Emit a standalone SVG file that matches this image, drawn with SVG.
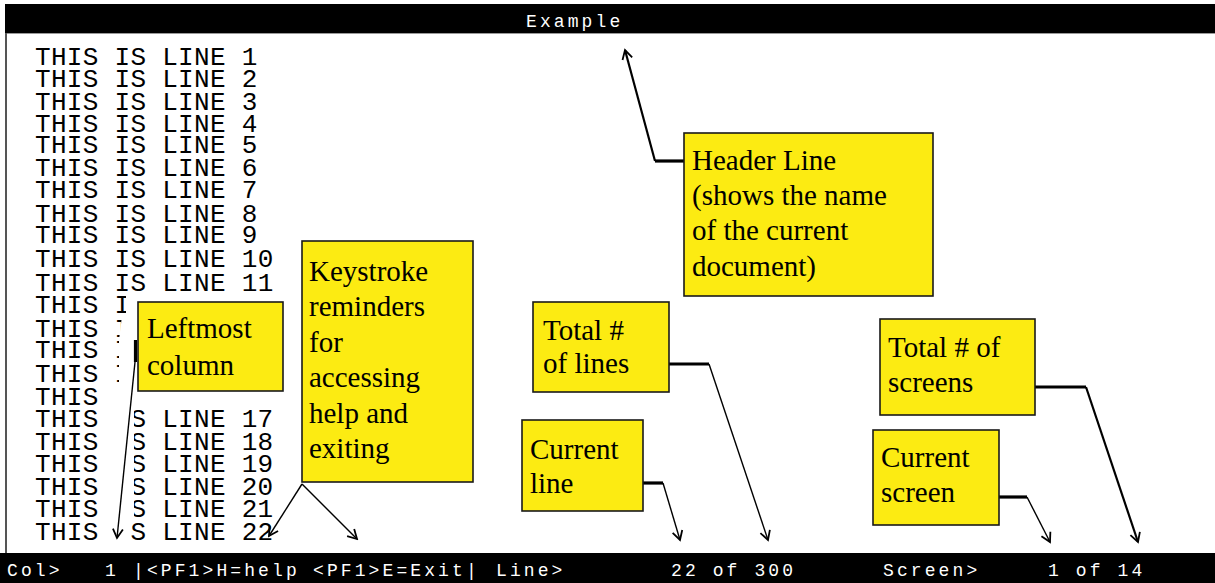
<svg xmlns="http://www.w3.org/2000/svg" width="1215" height="583" viewBox="0 0 1215 583">
  <style>
    .bar { fill: #000; }
    .term { font-family: "Liberation Mono", "DejaVu Sans Mono", monospace; fill: #fff; font-size: 18px; letter-spacing: 3.1px; }
    .body { font-family: "Liberation Mono", "DejaVu Sans Mono", monospace; fill: #000; font-size: 26px; letter-spacing: 0.3px; }
    .note rect { fill: #FCEB12; stroke: #1a1a1a; stroke-width: 1.6; }
    .note text { font-family: "Liberation Serif", "Times New Roman", serif; font-size: 29px; fill: #000; }
    .stub { stroke: #000; stroke-width: 3.2; fill: none; }
    .lead { stroke: #000; stroke-width: 1.4; fill: none; marker-end: url(#chev); }
    .lead.bold { stroke-width: 2.2; }
  </style>
  <defs>
    <marker id="chev" viewBox="-11 -7 13 14" markerWidth="13" markerHeight="14" refX="0" refY="0" orient="auto" markerUnits="userSpaceOnUse">
      <path d="M-9,-5 L0,0 L-9,5" fill="none" stroke="#000" stroke-width="1.8"/>
    </marker>
  </defs>

  <!-- screen frame -->
  <g id="screen">
    <rect x="0" y="0" width="1215" height="583" fill="#fff"/>
    <rect class="bar" x="5" y="4" width="1210" height="29"/>
    <line x1="5" y1="33.5" x2="1215" y2="33.5" stroke="#9a9a9a" stroke-width="1"/>
    <line x1="6" y1="33" x2="6" y2="553" stroke="#555" stroke-width="2"/>
    <text class="term" x="526" y="27">Example</text>

    <!-- document body; lines 12-22 are partly hidden behind the callout -->
    <g class="body">
      <text x="35" y="65">THIS IS LINE 1</text>
      <text x="35" y="87">THIS IS LINE 2</text>
      <text x="35" y="110">THIS IS LINE 3</text>
      <text x="35" y="132">THIS IS LINE 4</text>
      <text x="35" y="153">THIS IS LINE 5</text>
      <text x="35" y="176">THIS IS LINE 6</text>
      <text x="35" y="198">THIS IS LINE 7</text>
      <text x="35" y="222">THIS IS LINE 8</text>
      <text x="35" y="243">THIS IS LINE 9</text>
      <text x="35" y="267">THIS IS LINE 10</text>
      <text x="35" y="291">THIS IS LINE 11</text>
      <text x="35" y="313">THIS I</text>
      <text x="35" y="337">THIS I</text>
      <text x="35" y="358">THIS I</text>
      <text x="35" y="382">THIS I</text>
      <text x="35" y="405">THIS</text>
      <text x="35" y="427">THIS</text>
      <text x="35" y="450">THIS</text>
      <text x="35" y="472">THIS</text>
      <text x="35" y="495">THIS</text>
      <text x="35" y="517">THIS</text>
      <text x="35" y="540">THIS</text>
      <text x="130.4" y="427">S LINE 17</text>
      <text x="130.4" y="450">S LINE 18</text>
      <text x="130.4" y="472">S LINE 19</text>
      <text x="130.4" y="495">S LINE 20</text>
      <text x="130.4" y="517">S LINE 21</text>
      <text x="130.4" y="540">S LINE 22</text>
    </g>

    <!-- white frame of the callout and its leader -->
    <polygon fill="#fff" points="126,294 295,294 295,401 134,401 134,518 129,520 129,542 113,542 113,401 119,396 119,340 122,316 126,316"/>

    <!-- status line -->
    <rect class="bar" x="0" y="553" width="1215" height="30"/>
    <g class="term">
      <text x="7" y="576">Col&gt;</text>
      <text x="105" y="576">1</text>
      <text x="133" y="576">|&lt;PF1&gt;H=help</text>
      <text x="313" y="576">&lt;PF1&gt;E=Exit|</text>
      <text x="496" y="576">Line&gt;</text>
      <text x="671" y="576">22 of 300</text>
      <text x="883" y="576">Screen&gt;</text>
      <text x="1048" y="576">1 of 14</text>
    </g>
  </g>

  <!-- leaders from callouts to the screen -->
  <g id="connectors">
    <path class="stub" d="M684,161 H655"/>
    <path class="lead bold" d="M655,161 L625,50"/>

    <path class="stub" d="M135.5,340 V362"/>
    <path class="lead" d="M135,362 L117,538"/>

    <path class="lead" d="M302,484 L269,536"/>
    <path class="lead" d="M302,484 L357,539"/>

    <path class="stub" d="M669,364 H709"/>
    <path class="lead" d="M709,364 L768,540"/>

    <path class="stub" d="M643,483 H663"/>
    <path class="lead" d="M663,483 L680,540"/>

    <path class="stub" d="M1035,387 H1086"/>
    <path class="lead bold" d="M1086,387 L1138,542"/>

    <path class="stub" d="M999,497 H1027"/>
    <path class="lead" d="M1027,497 L1050,542"/>
  </g>

  <g id="header-line" class="note">
    <rect x="684" y="133" width="249" height="163"/>
    <text x="692" y="170">Header Line</text>
    <text x="692" y="205">(shows the name</text>
    <text x="692" y="240">of the current</text>
    <text x="692" y="276">document)</text>
  </g>

  <g id="leftmost-column" class="note">
    <rect x="138" y="302" width="145" height="89"/>
    <text x="147" y="338">Leftmost</text>
    <text x="147" y="375">column</text>
  </g>

  <g id="keystroke-reminders" class="note">
    <rect x="302" y="241" width="171" height="241"/>
    <text x="309" y="281">Keystroke</text>
    <text x="309" y="316">reminders</text>
    <text x="309" y="352">for</text>
    <text x="309" y="387">accessing</text>
    <text x="309" y="423">help and</text>
    <text x="309" y="458">exiting</text>
  </g>

  <g id="total-lines" class="note">
    <rect x="533" y="302" width="136" height="90"/>
    <text x="543" y="340">Total #</text>
    <text x="543" y="373">of lines</text>
  </g>

  <g id="current-line" class="note">
    <rect x="522" y="420" width="121" height="91"/>
    <text x="530" y="459">Current</text>
    <text x="530" y="493">line</text>
  </g>

  <g id="total-screens" class="note">
    <rect x="880" y="319" width="155" height="96"/>
    <text x="888" y="357">Total # of</text>
    <text x="888" y="392">screens</text>
  </g>

  <g id="current-screen" class="note">
    <rect x="873" y="430" width="126" height="95"/>
    <text x="881" y="467">Current</text>
    <text x="881" y="502">screen</text>
  </g>
</svg>
